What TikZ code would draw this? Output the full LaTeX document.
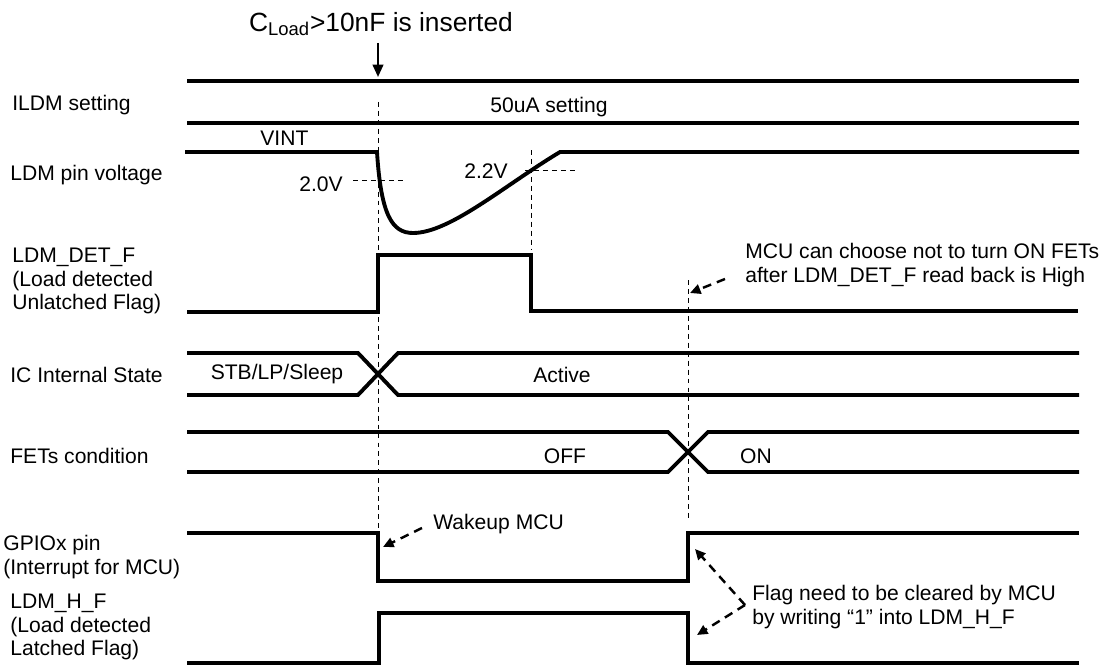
\documentclass[tikz,border=0pt]{standalone}
\usepackage{fontspec}
\setmainfont{Liberation Sans}
\usepackage{xcolor}
\definecolor{ink}{HTML}{000000}
\usetikzlibrary{arrows.meta, calc}

\begin{document}
\begin{tikzpicture}[
  x=0.02cm, y=-0.02cm,
  font=\fontsize{12}{13.6}\selectfont,
  wave/.style={draw=ink, line width=2.2pt, line join=miter},
  guide/.style={draw=ink, line width=0.55pt, dash pattern=on 2.8pt off 2.3pt},
  note/.style={draw=ink, line width=1.4pt, dash pattern=on 5pt off 3.5pt,
    -{Triangle[length=6pt, width=5.5pt]}},
  lbl/.style={anchor=west, align=left, inner sep=0pt},
  txt/.style={inner sep=0pt}
]
  \useasboundingbox (0,0) rectangle (1115,669);

  % signal names
  \node[lbl] (nILDM) at (12,105) {ILDM setting};
  \node[lbl] (nPin) at (10,175) {LDM pin voltage};
  \node[lbl] (nDet) at (12,281) {LDM\_DET\_F\\(Load detected\\Unlatched Flag)};
  \node[lbl] (nIC) at (10,375) {IC Internal State};
  \node[lbl] (nFET) at (10,456) {FETs condition};
  \node[lbl] (nGPIO) at (3,557) {GPIOx pin\\(Interrupt for MCU)};
  \node[lbl] (nHF) at (10,627) {LDM\_H\_F\\(Load detected\\Latched Flag)};

  % event
  \node[txt, font=\fontsize{15}{17}\selectfont] (title) at (381,24)
    {C\textsubscript{Load}>10nF is inserted};
  \coordinate (insA) at (378,43);
  \coordinate (insB) at (378,77);
  \draw[ink, line width=1.3pt, -{Triangle[length=7pt, width=6pt]}] (insA) -- (insB);

  % guides
  \draw[guide] (378,102) -- (378,555);
  \draw[guide] (531,150) -- (531,250);
  \draw[guide] (688,280) -- (688,520);
  \draw[guide] (353,180) -- (405,180);
  \draw[guide] (525,170) -- (575,170);

  % ILDM setting
  \foreach \y in {81,123}
    \draw[wave] (187,\y) -- (1079,\y);
  \node[txt, anchor=west] (set) at (490,107) {50uA setting};

  % LDM pin voltage
  \draw[wave] (185,152) -- (377,152)
    .. controls (381,215) and (392,233) .. (413,233)
    .. controls (450,233) and (505,185) .. (560,152) -- (1079,152);
  \node[txt, anchor=west] (vint) at (260,138) {VINT};
  \node[txt, anchor=east] (v20) at (343,184) {2.0V};
  \node[txt, anchor=east] (v22) at (508,171) {2.2V};

  % LDM_DET_F
  \draw[wave] (187,312) -- (378,312) -- (378,255) -- (531,255)
    -- (531,311) -- (1078,311);

  % IC internal state
  \draw[wave] (187,353) -- (358,353) -- (398,395) -- (1079,395);
  \draw[wave] (187,395) -- (358,395) -- (398,353) -- (1079,353);
  \node[txt] (stb) at (277,374) {STB/LP/Sleep};
  \node[txt] (act) at (562,375) {Active};

  % FETs condition
  \draw[wave] (187,432) -- (668,432) -- (708,472) -- (1079,472);
  \draw[wave] (187,472) -- (668,472) -- (708,432) -- (1079,432);
  \node[txt] (off) at (565,456) {OFF};
  \node[txt] (on) at (756,456) {ON};

  % GPIOx pin
  \draw[wave] (187,533) -- (378,533) -- (378,581) -- (688,581)
    -- (688,533) -- (1079,533);

  % LDM_H_F
  \draw[wave] (187,663) -- (379,663) -- (379,613) -- (688,613)
    -- (688,663) -- (1079,663);

  % notes
  \node[lbl] (mcu) at (745,265)
    {MCU can choose not to turn ON FETs\\after LDM\_DET\_F read back is High};
  \coordinate (mcuA) at (725,279);
  \coordinate (fetsOn) at (690,293);
  \draw[note] (mcuA) -- (fetsOn);

  \node[lbl] (wake) at (433,524) {Wakeup MCU};
  \coordinate (wakeA) at (422,528);
  \coordinate (wakeB) at (383,547);
  \draw[note] (wakeA) -- (wakeB);

  \node[lbl] (clr) at (752,607)
    {Flag need to be cleared by MCU\\by writing “1” into LDM\_H\_F};
  \coordinate (clrV) at (745,605);
  \coordinate (clrUp) at (695,549);
  \coordinate (clrDn) at (697,635);
  \draw[note] (clrV) -- (clrUp);
  \draw[note] (clrV) -- (clrDn);
\end{tikzpicture}
\end{document}
